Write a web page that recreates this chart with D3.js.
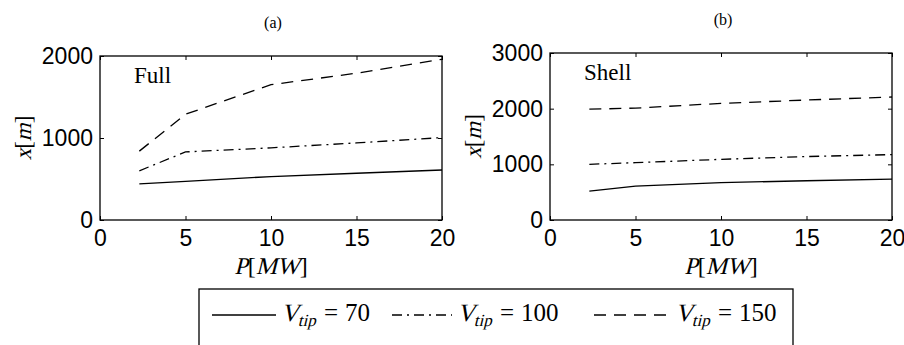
<!DOCTYPE html>
<html>
<head>
<meta charset="utf-8">
<script src="https://cdn.jsdelivr.net/npm/d3@7/dist/d3.min.js"></script>
<style>
  body { margin: 0; background: #fff; }
  svg { display: block; }
  .tick text { font-family: "Liberation Sans", Arial, sans-serif; font-size: 23px; fill: #000; }
</style>
</head>
<body>
<svg id="chart" width="904" height="345"></svg>
<script>
// P [MW] sample points, same for both panels
const power = [2.3, 5, 10, 15, 20];

// (a) Full
const fullV70  = [440, 470, 530, 570, 610];
const fullV100 = [600, 830, 880, 940, 1005];
const fullV150 = [840, 1290, 1650, 1790, 1960];

// (b) Shell
const shellV70  = [520, 610, 670, 705, 735];
const shellV100 = [1000, 1030, 1090, 1140, 1175];
const shellV150 = [1990, 2010, 2095, 2155, 2210];

const xTicks = [0, 5, 10, 15, 20];
const yTicksFull = [0, 1000, 2000];
const yTicksShell = [0, 1000, 2000, 3000];
const legendValues = [70, 100, 150];
const dashes = [null, "10,5,2,5", "12,8"];

const serif = "Liberation Serif, serif";

let svg = d3.select("#chart");

// lay out pieces of a math label one after another; italic pieces are slanted
function mathText(parent, x, y, parts, size, anchor, rot) {
  let g = parent.append("g")
    .attr("transform", `translate(${x},${y})` + (rot ? ` rotate(${rot})` : ""));
  let inner = g.append("g");
  let cursor = 0;
  parts.forEach(p => {
    let t = inner.append("text")
      .attr("y", p.dy || 0)
      .attr("font-family", serif)
      .attr("font-size", p.size || size)
      .attr("fill", "#000")
      .attr("transform", `translate(${cursor},0)` + (p.it ? " skewX(-14)" : ""))
      .text(p.t);
    cursor += t.node().getComputedTextLength() + (p.gap || 0);
  });
  if (anchor === "middle") inner.attr("transform", `translate(${-cursor / 2},0)`);
  return cursor;
}

function panel(box, title, label, yMax, yTicks, series) {
  let x = d3.scaleLinear().domain([0, 20]).range([box.left, box.right]);
  let y = d3.scaleLinear().domain([0, yMax]).range([box.bottom, box.top]);
  let g = svg.append("g");

  // inward ticks on every side, MATLAB box style
  g.append("g").attr("transform", `translate(0,${box.bottom})`)
    .call(d3.axisBottom(x).tickValues(xTicks).tickSize(-4).tickPadding(10).tickFormat(d3.format("d")))
    .call(a => a.select(".domain").remove());
  g.append("g").attr("transform", `translate(0,${box.top})`)
    .call(d3.axisTop(x).tickValues(xTicks).tickSize(-4).tickFormat(""))
    .call(a => a.select(".domain").remove());
  g.append("g").attr("transform", `translate(${box.left},0)`)
    .call(d3.axisLeft(y).tickValues(yTicks).tickSize(-4).tickPadding(7).tickFormat(d3.format("d")))
    .call(a => a.select(".domain").remove());
  g.append("g").attr("transform", `translate(${box.right},0)`)
    .call(d3.axisRight(y).tickValues(yTicks).tickSize(-4).tickFormat(""))
    .call(a => a.select(".domain").remove());
  g.selectAll(".tick line").attr("stroke", "#000").attr("stroke-width", 1);
  g.selectAll(".tick text").attr("font-size", null).attr("font-family", null).attr("fill", null);

  g.append("rect")
    .attr("x", box.left).attr("y", box.top)
    .attr("width", box.right - box.left).attr("height", box.bottom - box.top)
    .attr("fill", "none").attr("stroke", "#000").attr("stroke-width", 1.3);

  let line = d3.line().x((d, i) => x(power[i])).y(d => y(d));
  series.forEach((s, k) => {
    g.append("path").datum(s)
      .attr("d", line)
      .attr("fill", "none")
      .attr("stroke", "#000")
      .attr("stroke-width", 1.3)
      .attr("stroke-dasharray", dashes[k]);
  });

  g.append("text").text(title)
    .attr("x", (box.left + box.right) / 2 + 2).attr("y", box.top - 28)
    .attr("text-anchor", "middle")
    .attr("font-family", serif).attr("font-size", 16);

  g.append("text").text(label)
    .attr("x", box.left + 34).attr("y", box.top + 27)
    .attr("font-family", serif).attr("font-size", 23);

  // axis labels
  mathText(g, (box.left + box.right) / 2, box.bottom + 54,
    [{t: "P", it: true}, {t: "["}, {t: "MW", it: true}, {t: "]"}], 24, "middle");
  mathText(g, box.left - 69, (box.top + box.bottom) / 2,
    [{t: "x", it: true}, {t: "["}, {t: "m", it: true}, {t: "]"}], 23, "middle", -90);
}

panel({left: 100, right: 442, top: 56, bottom: 220}, "(a)", "Full", 2000, yTicksFull,
      [fullV70, fullV100, fullV150]);
panel({left: 550, right: 892, top: 53, bottom: 220}, "(b)", "Shell", 3000, yTicksShell,
      [shellV70, shellV100, shellV150]);

// Legend
let lg = svg.append("g");
lg.append("rect")
  .attr("x", 199).attr("y", 289).attr("width", 594).attr("height", 80)
  .attr("fill", "#fff").attr("stroke", "#000").attr("stroke-width", 1.3);

const legendX = [212, 392, 594];
const sampleW = [64, 60, 76];
legendValues.forEach((v, k) => {
  let ly = 315;
  lg.append("line")
    .attr("x1", legendX[k]).attr("x2", legendX[k] + sampleW[k])
    .attr("y1", ly).attr("y2", ly)
    .attr("stroke", "#000").attr("stroke-width", 1.3)
    .attr("stroke-dasharray", dashes[k]);
  mathText(lg, legendX[k] + sampleW[k] + 5, ly + 6, [
    {t: "V", it: true},
    {t: "tip", it: true, size: 17, dy: 5, gap: 7},
    {t: "=", gap: 7},
    {t: String(v)}
  ], 25, "start");
});
</script>
</body>
</html>
